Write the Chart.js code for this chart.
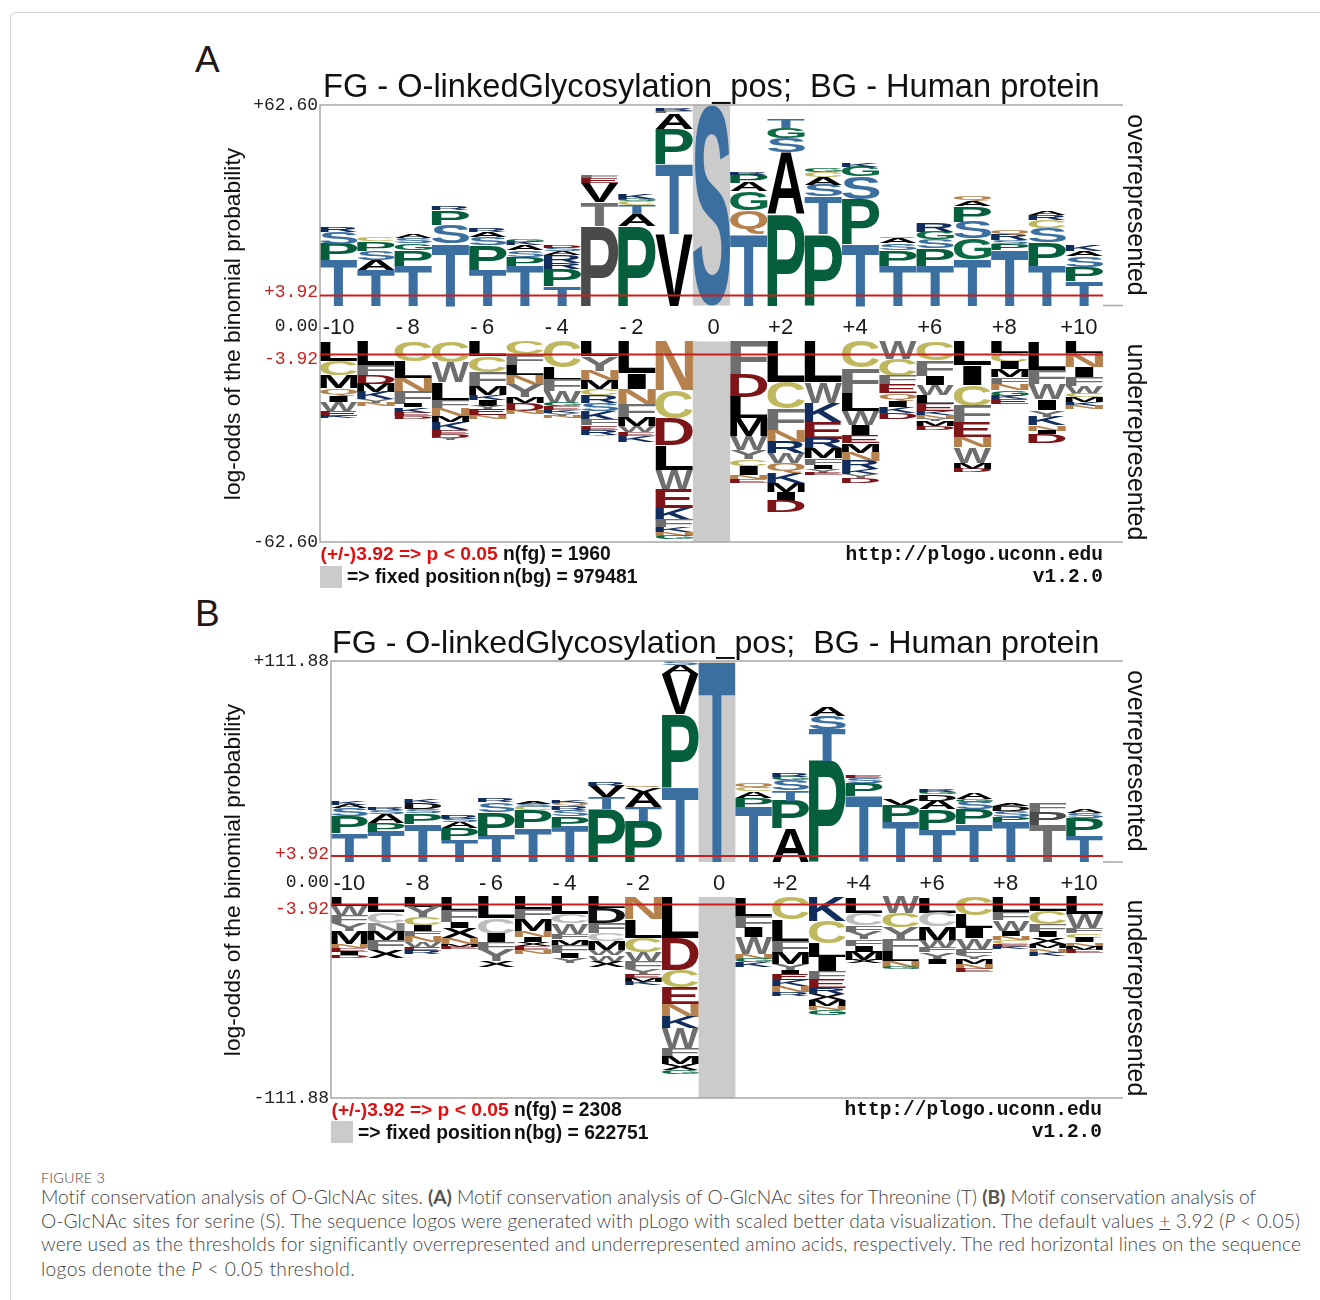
<!DOCTYPE html>
<html>
<head>
<meta charset="utf-8">
<script src="https://cdn.jsdelivr.net/npm/chart.js@4"></script>
<style>
html, body { margin: 0; padding: 0; background: #fff; }
body { width: 1320px; height: 1300px; position: relative; overflow: hidden; font-family: "Liberation Sans", sans-serif; }
#frame { position: absolute; left: 10px; top: 12px; width: 1320px; height: 1300px; border-left: 1px solid #d4d4d4; border-top: 1px solid #d4d4d4; border-top-left-radius: 6px; }
canvas { position: absolute; }
.t { position: absolute; white-space: pre; line-height: 1; }
.cap { position: absolute; left: 41px; white-space: pre; color: #444; font-family: "Lato", sans-serif; font-weight: 300; font-size: 19.2px; line-height: 1; }
.cap b { font-weight: 700; color: #555; }
.side { position: absolute; white-space: pre; line-height: 1; color: #111; }
</style>
</head>
<body>
<div id="frame"></div>
<canvas id="logoA"></canvas>
<canvas id="logoB"></canvas>
<script>
// Sequence positions shared by both logos
const positions = ["-10", "-9", "-8", "-7", "-6", "-5", "-4", "-3", "-2", "-1", "0",
  "+1", "+2", "+3", "+4", "+5", "+6", "+7", "+8", "+9", "+10"];

// Logo A, overrepresented, letters from the baseline upwards
const aOverLetters = ["TPSR", "TASPC", "TPGSA", "TSPR", "TPSAR", "TPSAKG", "TPRRASD", "PTVEF", "PATCGK", "VTPAFR", "S",
  "TQGAPR", "PASGT", "PTSACG", "TPSGK", "TPSAQ", "TPSGR", "TGSPAQ", "TPSRQ", "TPSCRA", "TPSAK"];
const aOverHeights = [
  [14.3, 5.0, 3.6, 1.4], [11.2, 3.1, 2.8, 2.9, 1.3], [12.5, 4.7, 2.2, 1.6, 1.0], [19.3, 5.9, 4.5, 1.2],
  [11.2, 7.8, 2.3, 1.7, 1.0], [12.5, 2.7, 2.1, 1.5, 1.0, 0.9], [6.2, 5.2, 1.9, 2.4, 1.2, 1.2, 0.8],
  [24.9, 7.3, 6.0, 1.6, 0.8], [24.9, 3.6, 2.9, 1.2, 0.8, 1.5], [22.3, 21.8, 11.0, 4.9, 0.8, 0.9], [62.6],
  [22.3, 7.4, 5.9, 2.6, 2.6, 0.7], [28.5, 19.3, 4.6, 3.1, 2.9], [22.3, 11.8, 3.6, 2.3, 1.7, 1.0],
  [19.2, 14.0, 7.1, 3.1, 1.0], [12.5, 4.9, 2.0, 1.6, 0.7], [12.5, 5.3, 2.8, 2.4, 2.8],
  [14.3, 6.7, 5.2, 4.9, 1.6, 1.6], [17.2, 2.1, 1.0, 1.8, 1.6], [12.5, 7.3, 4.3, 2.5, 1.7, 1.2], [7.6, 4.4, 3.4, 1.6, 1.8]
];

// Logo A, underrepresented, letters from the baseline downwards
const aUnderLetters = ["LCMQIWEK", "LFDMKYN", "CLNFIKED", "CWLFNMKEDY", "LCFMKIYEN", "CFLNYMDN", "CLFWGEKYN", "LYNMCRSKFERY", "LINFMWEK", "NCDLWEKFKNG", "",
  "FDLMWYCINE", "LCFNRWQKMID", "LWKERMFIYE", "CFLWIEMNRKYD", "WCFEQIKD", "CFIWLEKNYMD", "LICFENWMD", "LCIMFNGKE", "LFWIYKNID", "LNIFWCMKN"];
const aUnderHeights = [
  [6.1, 4.5, 4.0, 2.2, 2.0, 2.9, 1.6, 0.6], [7.4, 3.1, 2.7, 2.6, 2.3, 1.0, 1.2], [6.1, 5.2, 4.4, 3.9, 1.0, 1.6, 1.2, 0.8],
  [6.6, 6.2, 5.7, 2.4, 2.3, 2.1, 2.3, 1.3, 1.3, 0.7], [4.6, 4.9, 4.5, 2.6, 1.6, 1.9, 1.0, 1.8, 1.3],
  [4.0, 3.3, 3.1, 3.1, 3.9, 1.9, 2.3, 1.1], [8.2, 3.9, 3.5, 3.7, 1.0, 1.2, 0.8, 0.9, 0.6],
  [4.6, 4.5, 3.0, 2.7, 2.1, 2.3, 2.6, 2.6, 1.8, 1.3, 1.6, 0.5], [9.8, 4.9, 4.8, 4.4, 2.6, 1.9, 1.2, 1.9],
  [15.3, 8.7, 8.4, 7.7, 6.2, 5.8, 3.6, 2.3, 1.6, 1.0, 1.2], [],
  [10.3, 7.0, 6.7, 5.5, 4.4, 2.9, 2.1, 2.8, 1.3, 1.2], [12.6, 8.3, 6.9, 3.5, 3.6, 3.1, 3.1, 3.1, 2.7, 2.8, 3.6],
  [12.6, 6.5, 6.2, 5.0, 3.1, 3.1, 2.1, 1.2, 1.2, 0.8], [8.2, 7.8, 5.7, 4.4, 3.2, 2.5, 2.9, 2.6, 2.6, 1.6, 1.0, 1.6],
  [5.4, 5.4, 2.6, 2.8, 2.2, 2.1, 1.8, 1.9], [5.9, 4.9, 2.8, 3.2, 2.6, 2.3, 1.3, 1.2, 0.6, 1.7, 1.0],
  [7.4, 6.2, 6.5, 5.0, 4.6, 3.2, 4.9, 1.9, 1.2], [3.5, 2.9, 2.3, 2.4, 2.1, 2.0, 1.7, 1.0, 1.5],
  [9.2, 4.2, 4.7, 3.3, 2.1, 2.7, 1.6, 1.2, 2.6], [3.5, 4.5, 3.0, 2.9, 2.4, 1.0, 1.6, 1.2, 1.0]
];

// Logo B, overrepresented
const bOverLetters = ["TPSAK", "TPASR", "TPSDK", "TPASR", "TPSR", "TPCSA", "TPSRQK", "PTVR", "PTAVQ", "TPVAS", "T",
  "TPACQ", "APTSGR", "PTSA", "TPSE", "TPV", "TPADGR", "TPSGA", "TPSDA", "TPF", "TPSA"];
const bOverHeights = [
  [16.0, 9.6, 4.3, 1.9, 2.2], [16.9, 5.0, 4.6, 2.4, 1.7], [21.1, 5.9, 2.4, 3.2, 2.4], [12.1, 6.7, 3.2, 1.9, 2.4],
  [14.7, 13.0, 5.4, 1.9], [18.7, 10.2, 1.9, 1.5, 1.3], [19.7, 5.6, 3.7, 2.4, 1.7, 1.3], [29.5, 6.5, 6.5, 1.9],
  [23.0, 7.8, 8.3, 2.4, 1.3], [41.4, 40.8, 22.3, 5.2, 1.9], [111.88],
  [30.8, 5.0, 3.7, 1.9, 2.4], [18.7, 15.4, 5.9, 5.6, 1.9, 1.9], [56.4, 17.6, 7.2, 5.2], [36.7, 7.0, 2.8, 1.3],
  [22.4, 9.3, 3.3], [17.8, 11.7, 4.6, 3.5, 1.5, 1.5], [21.1, 8.3, 4.1, 1.5, 3.2], [22.4, 2.8, 3.3, 2.6, 1.5],
  [20.6, 7.4, 4.6], [14.5, 9.8, 3.2, 1.9]
];

// Logo B, underrepresented
const bUnderLetters = ["LWFYMNEID", "LCNMFX", "LYCIFNWER", "LFIXNME", "LCIFYX", "LFMNIXEN", "LCWFMFIY", "LDFCMWWX", "NLCWFYEMK", "LDCENKWFMXG", "",
  "LFIWNGK", "CLFMYIEKNR", "KCLIFERXMNG", "LCFYFIMX", "WCYFLNG", "LCMWFYI", "CLIWFYMNE", "LFWINCEK", "LCFIXMNK", "LWFCINME"];
const bUnderHeights = [
  [4.8, 5.6, 4.3, 4.3, 6.9, 2.4, 2.2, 1.9, 1.5], [8.5, 6.1, 4.6, 4.6, 5.6, 4.3], [5.4, 6.1, 4.1, 3.3, 2.8, 3.2, 2.8, 2.4, 1.9],
  [7.8, 6.3, 3.3, 5.6, 3.3, 1.3, 1.3], [11.9, 8.7, 4.6, 4.3, 6.1, 3.5], [6.9, 5.4, 6.7, 3.2, 2.8, 2.4, 2.2, 1.9],
  [9.6, 5.0, 5.9, 2.8, 3.7, 4.3, 2.8, 2.8], [6.3, 8.3, 5.6, 4.6, 4.6, 2.8, 3.7, 3.2],
  [12.4, 10.2, 8.3, 4.6, 4.5, 2.8, 2.4, 1.9, 1.9], [22.6, 18.0, 9.8, 9.3, 6.9, 6.1, 11.5, 5.0, 3.9, 3.2, 2.2], [],
  [10.9, 6.1, 5.4, 9.5, 2.6, 1.9, 2.8], [12.4, 12.4, 6.5, 6.1, 3.2, 2.4, 3.2, 3.3, 3.2, 2.2],
  [13.2, 12.6, 7.4, 8.0, 4.5, 4.8, 3.7, 3.2, 3.2, 2.4, 2.8], [8.7, 6.9, 3.7, 4.1, 3.7, 3.3, 4.6, 1.9],
  [9.1, 7.8, 7.0, 6.1, 5.6, 3.2, 1.3], [8.7, 7.8, 7.8, 3.9, 2.6, 3.7, 3.0], [10.0, 7.4, 5.6, 5.9, 3.3, 2.4, 2.8, 2.6, 1.9],
  [8.5, 4.3, 5.9, 3.0, 2.2, 2.2, 1.5, 1.3], [7.8, 7.4, 4.1, 3.2, 3.7, 2.4, 2.4, 1.9], [9.6, 7.8, 2.8, 2.4, 2.6, 2.4, 1.9, 1.9]
];

// Letters that pLogo shows greyed out, as "position:letter"
const aMuted = ["-3:P", "-3:T"];
const bMuted = ["+9:T", "+9:P", "-9:C", "-9:N", "-6:C", "-4:C", "-3:C", "-3:D", "+4:C", "+6:C", "-8:D", "+6:D", "+8:D"];

const letterColors = {
  T: "#3b6fa0", S: "#3b6fa0", P: "#055f3c", G: "#0b6b44", A: "#000", V: "#000", L: "#000", M: "#000", I: "#000", X: "#000",
  Q: "#b5824d", N: "#b5824d", C: "#c0b85f", F: "#6e6e6e", W: "#6e6e6e", Y: "#6e6e6e",
  D: "#7c1418", E: "#7c1418", K: "#112d5e", R: "#112d5e"
};
const mutedColors = { P: "#4a4a4a", T: "#707070", C: "#bdbdbd", N: "#8a8a8a", D: "#111" };

const threshold = 3.92;
const axisGray = "#a9a6a1";
const red = "#c8201e";

// Draws one letter stretched to exactly fill the rectangle of its bar
function drawLetter(ctx, letter, color, left, top, width, height) {
  ctx.save();
  ctx.font = 'bold 200px "Liberation Sans"';
  ctx.textAlign = "left";
  ctx.textBaseline = "alphabetic";
  ctx.fillStyle = color;
  var m = ctx.measureText(letter);
  var glyphLeft = -m.actualBoundingBoxLeft;
  var glyphWidth = m.actualBoundingBoxRight + m.actualBoundingBoxLeft;
  var glyphHeight = m.actualBoundingBoxAscent + m.actualBoundingBoxDescent;
  // The I stays narrow, the other letters take the whole column
  var w = letter === "I" ? width * 0.5 : width;
  var x = left + (width - w) / 2;
  ctx.translate(x, top);
  ctx.scale(w / glyphWidth, height / glyphHeight);
  ctx.fillText(letter, -glyphLeft, m.actualBoundingBoxAscent);
  ctx.restore();
}

const logoPlugin = {
  id: "logo",
  beforeDatasetsDraw(chart, args, opts) {
    var ctx = chart.ctx, a = chart.chartArea, x = chart.scales.x;
    var zero = x.getPixelForValue(positions.indexOf("0"));
    var w = x.getPixelForValue(1) - x.getPixelForValue(0);
    ctx.save();
    ctx.fillStyle = "#cbcbcb";
    ctx.fillRect(zero - w / 2, a.top, w, chart.scales.yOver.getPixelForValue(0) - a.top);
    var lower = chart.scales.yUnder.getPixelForValue(0);
    ctx.fillRect(zero - w / 2, lower, w, a.bottom - lower);
    ctx.restore();
  },
  afterDatasetsDraw(chart, args, opts) {
    var ctx = chart.ctx, a = chart.chartArea;
    var yOver = chart.scales.yOver, yUnder = chart.scales.yUnder;

    chart.data.datasets.forEach(function (ds, i) {
      chart.getDatasetMeta(i).data.forEach(function (bar, j) {
        var letter = ds.letters[j];
        if (!letter) return;
        var p = bar.getProps(["x", "y", "base", "width"], true);
        var color = opts.muted.indexOf(positions[j] + ":" + letter) >= 0 ? mutedColors[letter] : letterColors[letter];
        drawLetter(ctx, letter, color, p.x - p.width / 2, Math.min(p.y, p.base), p.width, Math.abs(p.base - p.y));
      });
    });

    // Frame, extended past the last column
    var right = a.right + 20;
    ctx.save();
    ctx.strokeStyle = axisGray;
    ctx.lineWidth = 1.5;
    ctx.beginPath();
    ctx.moveTo(right, a.top); ctx.lineTo(a.left, a.top); ctx.lineTo(a.left, a.bottom); ctx.lineTo(right, a.bottom);
    ctx.moveTo(a.right, yOver.getPixelForValue(0)); ctx.lineTo(right, yOver.getPixelForValue(0));
    ctx.stroke();

    // p < 0.05 thresholds
    ctx.strokeStyle = red;
    ctx.lineWidth = 2;
    ctx.beginPath();
    var overLine = yOver.getPixelForValue(threshold) + opts.overShift;
    var underLine = yUnder.getPixelForValue(-threshold) + 0.5;
    ctx.moveTo(a.left, overLine); ctx.lineTo(a.right, overLine);
    ctx.moveTo(a.left, underLine); ctx.lineTo(a.right, underLine);
    ctx.stroke();

    // Value labels left of the frame
    ctx.font = '18px "Liberation Mono"';
    ctx.textAlign = "right";
    ctx.textBaseline = "middle";
    var lx = a.left - 2;
    ctx.fillStyle = "#222";
    ctx.fillText("+" + opts.limit.toFixed(2), lx, a.top);
    ctx.fillText("-" + opts.limit.toFixed(2), lx, a.bottom);
    ctx.fillText("0.00", lx, (yOver.getPixelForValue(0) + yUnder.getPixelForValue(0)) / 2 + 3);
    ctx.fillStyle = red;
    ctx.fillText("+" + threshold.toFixed(2), lx, yOver.getPixelForValue(threshold) - 1);
    ctx.fillText("-" + threshold.toFixed(2), lx, yUnder.getPixelForValue(-threshold) + 5);
    ctx.restore();
  }
};

// Stacked bars per level: level k holds the k-th letter of every column
function makeDatasets(letters, heights, axis, sign) {
  var levels = Math.max.apply(null, heights.map(h => h.length));
  var sets = [];
  for (var k = 0; k < levels; k++) {
    sets.push({
      label: axis + " " + (k + 1),
      yAxisID: axis,
      stack: "logo",
      data: heights.map(h => (h[k] === undefined ? 0 : sign * h[k])),
      letters: letters.map(s => s[k]),
      backgroundColor: "transparent",
      borderWidth: 0,
      barPercentage: 1,
      categoryPercentage: 1
    });
  }
  return sets;
}

// Even positions only; the thin spaces widen the sign and nudge the label left like pLogo does
function tickLabel(index) {
  if (index % 2 !== 0) return "";
  var label = positions[index];
  if (label === "0") return "\u2009" + label;
  if (label === "-10") return label;
  if (label[0] === "-") return "-\u2009" + label.slice(1) + "\u2002";
  return label + "\u2002";
}

function makeLogo(id, box, limit, gap, overShift, muted, over, under) {
  var canvas = document.getElementById(id);
  canvas.style.left = (box.left - 110) + "px";
  canvas.style.top = (box.top - 10) + "px";
  canvas.width = box.right - box.left + 140;
  canvas.height = box.bottom - box.top + 20;
  return new Chart(canvas.getContext("2d"), {
    type: "bar",
    data: {
      labels: positions,
      datasets: makeDatasets(over[0], over[1], "yOver", 1).concat(makeDatasets(under[0], under[1], "yUnder", -1))
    },
    plugins: [logoPlugin],
    options: {
      responsive: false,
      animation: false,
      events: [],
      layout: { padding: { left: 110, right: 30, top: 10, bottom: 10 } },
      plugins: {
        legend: { display: false },
        tooltip: { enabled: false },
        title: { display: false },
        logo: { muted: muted, limit: limit, overShift: overShift }
      },
      scales: {
        x: {
          stacked: true,
          position: { yOver: -gap * 0.035 },
          grid: { display: false },
          border: { display: false },
          ticks: {
            autoSkip: false,
            maxRotation: 0,
            padding: 0,
            color: "#1a1a1a",
            font: { family: "Liberation Sans", size: 22 },
            callback: function (value, index) {
              return tickLabel(index);
            }
          }
        },
        yOver: { display: false, stacked: true, min: -(limit + gap), max: limit },
        yUnder: { display: false, stacked: true, min: -limit, max: limit + gap }
      }
    }
  });
}

makeLogo("logoA", { left: 320, right: 1103, top: 105, bottom: 542 }, 62.6, 11.2, 2.5, aMuted,
  [aOverLetters, aOverHeights], [aUnderLetters, aUnderHeights]);
makeLogo("logoB", { left: 331, right: 1103, top: 661, bottom: 1098 }, 111.88, 19.5, 1, bMuted,
  [bOverLetters, bOverHeights], [bUnderLetters, bUnderHeights]);

// Text around the logos
function addText(text, x, y, css, anchorRight) {
  var d = document.createElement("div");
  d.className = "t";
  d.textContent = text;
  d.style.cssText = css;
  d.style.top = (y - parseFloat(d.style.fontSize) / 2) + "px";
  if (anchorRight) d.style.right = (1320 - x) + "px"; else d.style.left = x + "px";
  document.body.appendChild(d);
  return d;
}
function addSide(text, cx, cy, angle, size) {
  var d = document.createElement("div");
  d.className = "side";
  d.textContent = text;
  d.style.left = cx + "px";
  d.style.top = cy + "px";
  d.style.fontSize = size + "px";
  d.style.transform = "translate(-50%,-50%) rotate(" + angle + "deg)";
  document.body.appendChild(d);
}
const boldRed = "font-size:19.2px;font-weight:bold;color:#e01010;";
const boldBlack = "font-size:19.3px;font-weight:bold;color:#111;";
const boldMono = 'font-size:19.5px;font-weight:bold;color:#111;font-family:"Liberation Mono";';

function addPanelText(letter, letterY, title, titleX, titleY, titleSize, dy) {
  addText(letter, 195, letterY, "font-size:37px;color:#231815;");
  addText(title, titleX, titleY, "font-size:" + titleSize + "px;color:#111;");
  addSide("log-odds of the binomial probability", 231.5, 324 + dy, -90, 22.8);
  addSide("overrepresented", 1136.5, 205 + dy, 90, 24.9);
  addSide("underrepresented", 1136.5, 442 + dy, 90, 24.9);
}

addPanelText("A", 59, "FG - O-linkedGlycosylation_pos;  BG - Human protein", 323, 86, 32.6, 0);
addText("(+/-)3.92 => p < 0.05", 320.5, 554, boldRed);
addText("n(fg) = 1960", 503, 554, boldBlack);
addText("=> fixed position", 347, 577, boldBlack);
addText("n(bg) = 979481", 503, 577, boldBlack);
addText("http://plogo.uconn.edu", 1103, 556, boldMono, true);
addText("v1.2.0", 1103, 578, boldMono, true);
addText(" ", 320, 577, "font-size:22px;width:22px;height:22px;background:#cbcbcb;");

addPanelText("B", 613, "FG - O-linkedGlycosylation_pos;  BG - Human protein", 332, 642, 32.2, 556);
addText("(+/-)3.92 => p < 0.05", 331.5, 1110, boldRed);
addText("n(fg) = 2308", 514, 1110, boldBlack);
addText("=> fixed position", 358, 1133, boldBlack);
addText("n(bg) = 622751", 514, 1133, boldBlack);
addText("http://plogo.uconn.edu", 1102, 1111, boldMono, true);
addText("v1.2.0", 1102, 1133, boldMono, true);
addText(" ", 331, 1132, "font-size:22px;width:22px;height:22px;background:#cbcbcb;");

// Caption, each line stretched to the width it has in the figure
const captionLines = [
  ["FIGURE 3", 1171, 64],
  ['Motif conservation analysis of O-GlcNAc sites. <b>(A)</b> Motif conservation analysis of O-GlcNAc sites for Threonine (T) <b>(B)</b> Motif conservation analysis of', 1187, 1217],
  ['O-GlcNAc sites for serine (S). The sequence logos were generated with pLogo with scaled better data visualization. The default values <u>+</u> 3.92 (<i>P</i> &lt; 0.05)', 1211, 1259],
  ['were used as the thresholds for significantly overrepresented and underrepresented amino acids, respectively. The red horizontal lines on the sequence', 1234, 1260],
  ['logos denote the <i>P</i> &lt; 0.05 threshold.', 1259, 314]
];
captionLines.forEach(function (line, i) {
  var d = document.createElement("div");
  d.className = "cap";
  d.innerHTML = line[0];
  d.style.top = line[1] + "px";
  if (i === 0) d.style.fontSize = "14.5px";
  document.body.appendChild(d);
  var spacing = (line[2] - d.getBoundingClientRect().width) / d.textContent.length;
  d.style.letterSpacing = spacing.toFixed(3) + "px";
});
</script>
</body>
</html>
